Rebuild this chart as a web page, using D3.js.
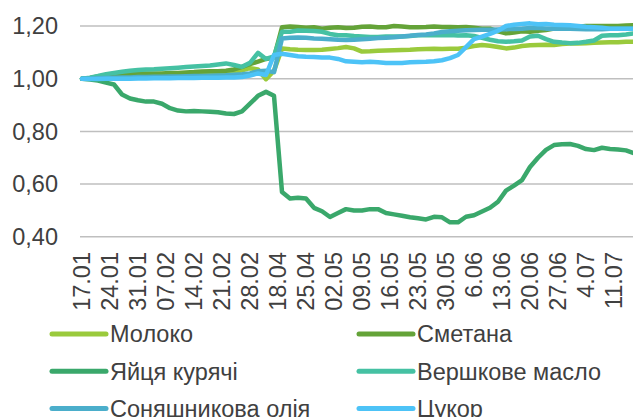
<!DOCTYPE html>
<html lang="uk">
  <head>
    <meta charset="UTF-8" />
    <title>D3</title>
    <script src="https://cdn.jsdelivr.net/npm/d3@7"></script>
    <style>
      html,
      body {
        margin: 0;
        padding: 0;
        background: #fff;
      }
      text {
        font-family: 'Liberation Sans', Arial, sans-serif;
        fill: #404040;
      }
    </style>
  </head>
  <body>
    <script>
      // tick labels: one every 7 categories
      const dates = ['17.01', '24.01', '31.01', '07.02', '14.02', '21.02', '28.02', '18.04', '25.04', '02.05',
        '09.05', '16.05', '23.05', '30.05', '6.06', '13.06', '20.06', '27.06', '4.07', '11.07'];
      const yTicks = [0.4, 0.6, 0.8, 1.0, 1.2];

      // values read every 2nd category
      const moloko = [1.000, 1.002, 1.006, 1.010, 1.012, 1.012, 1.013, 1.014, 1.015, 1.015,
        1.017, 1.015, 1.012, 1.012, 1.014, 1.016, 1.018, 1.020, 1.020, 1.025,
        1.032, 1.040, 1.035, 0.998, 1.030, 1.115, 1.112, 1.110, 1.109, 1.109,
        1.110, 1.113, 1.116, 1.120, 1.115, 1.103, 1.104, 1.106, 1.107, 1.108,
        1.109, 1.110, 1.112, 1.113, 1.114, 1.113, 1.114, 1.114, 1.118, 1.124,
        1.128, 1.125, 1.120, 1.115, 1.118, 1.124, 1.127, 1.128, 1.129, 1.128,
        1.132, 1.134, 1.134, 1.135, 1.136, 1.137, 1.138, 1.138, 1.140, 1.140];
      const smetana = [1.000, 1.003, 1.008, 1.012, 1.015, 1.017, 1.018, 1.020, 1.020, 1.020,
        1.020, 1.022, 1.022, 1.024, 1.025, 1.027, 1.028, 1.028, 1.030, 1.035,
        1.045, 1.055, 1.065, 1.075, 1.080, 1.195, 1.198, 1.196, 1.193, 1.195,
        1.190, 1.193, 1.195, 1.192, 1.193, 1.197, 1.198, 1.195, 1.195, 1.200,
        1.198, 1.195, 1.195, 1.196, 1.198, 1.196, 1.196, 1.195, 1.196, 1.193,
        1.190, 1.190, 1.180, 1.172, 1.175, 1.180, 1.178, 1.182, 1.185, 1.190,
        1.195, 1.198, 1.197, 1.200, 1.200, 1.200, 1.200, 1.200, 1.202, 1.203];
      const eggs = [1.000, 0.997, 0.993, 0.985, 0.978, 0.940, 0.925, 0.918, 0.913, 0.913,
        0.905, 0.888, 0.879, 0.876, 0.877, 0.876, 0.875, 0.873, 0.868, 0.866,
        0.876, 0.905, 0.935, 0.950, 0.935, 0.570, 0.545, 0.548, 0.545, 0.510,
        0.497, 0.475, 0.490, 0.505, 0.500, 0.500, 0.505, 0.505, 0.490, 0.485,
        0.480, 0.474, 0.470, 0.466, 0.476, 0.474, 0.455, 0.455, 0.476, 0.482,
        0.496, 0.510, 0.533, 0.575, 0.594, 0.615, 0.665, 0.700, 0.730, 0.748,
        0.751, 0.752, 0.745, 0.733, 0.729, 0.738, 0.733, 0.731, 0.728, 0.717];
      const butter = [1.000, 1.004, 1.010, 1.017, 1.022, 1.026, 1.030, 1.033, 1.035, 1.036,
        1.038, 1.040, 1.042, 1.044, 1.046, 1.048, 1.050, 1.054, 1.058, 1.052,
        1.045, 1.060, 1.098, 1.075, 1.085, 1.178, 1.178, 1.183, 1.182, 1.181,
        1.178, 1.170, 1.165, 1.165, 1.162, 1.160, 1.158, 1.158, 1.160, 1.160,
        1.160, 1.162, 1.165, 1.165, 1.165, 1.165, 1.166, 1.164, 1.165, 1.162,
        1.155, 1.148, 1.142, 1.140, 1.142, 1.145, 1.160, 1.163, 1.150, 1.140,
        1.137, 1.135, 1.136, 1.140, 1.145, 1.163, 1.165, 1.165, 1.168, 1.172];
      const oil = [1.000, 1.000, 1.002, 1.003, 1.004, 1.005, 1.005, 1.006, 1.006, 1.007,
        1.007, 1.008, 1.008, 1.009, 1.010, 1.010, 1.011, 1.012, 1.013, 1.015,
        1.017, 1.020, 1.028, 1.030, 1.025, 1.153, 1.155, 1.156, 1.155, 1.153,
        1.152, 1.150, 1.148, 1.147, 1.148, 1.150, 1.152, 1.154, 1.155, 1.157,
        1.160, 1.163, 1.166, 1.168, 1.172, 1.177, 1.180, 1.182, 1.184, 1.185,
        1.186, 1.186, 1.187, 1.188, 1.189, 1.190, 1.192, 1.193, 1.190, 1.190,
        1.190, 1.190, 1.189, 1.188, 1.188, 1.188, 1.190, 1.190, 1.190, 1.190];
      const sugar = [1.000, 0.999, 0.999, 1.000, 1.000, 1.000, 1.000, 1.001, 1.001, 1.002,
        1.002, 1.002, 1.003, 1.003, 1.003, 1.004, 1.004, 1.004, 1.005, 1.005,
        1.006, 1.012, 1.020, 1.014, 1.090, 1.095, 1.090, 1.085, 1.083, 1.082,
        1.080, 1.080, 1.075, 1.066, 1.064, 1.062, 1.064, 1.062, 1.060, 1.060,
        1.060, 1.062, 1.063, 1.064, 1.066, 1.070, 1.078, 1.090, 1.120, 1.150,
        1.160, 1.170, 1.182, 1.200, 1.205, 1.208, 1.210, 1.207, 1.208, 1.205,
        1.204, 1.203, 1.200, 1.197, 1.195, 1.193, 1.190, 1.190, 1.190, 1.190];

      const series = [
        { name: 'Молоко', values: moloko, color: '#9ACA3C' },
        { name: 'Сметана', values: smetana, color: '#64A338' },
        { name: 'Яйця курячі', values: eggs, color: '#3AA86B' },
        { name: 'Вершкове масло', values: butter, color: '#45C1A3' },
        { name: 'Соняшникова олія', values: oil, color: '#4BAECB' },
        { name: 'Цукор', values: sugar, color: '#4DC3F7' },
      ];

      const width = 633,
        height = 417;

      const svg = d3
        .select('body')
        .append('svg')
        .attr('width', width)
        .attr('height', height);

      const x = d3.scaleLinear().domain([0, 1]).range([82, 86]);
      const y = d3.scaleLinear().domain([0.4, 1.2]).range([236.8, 26]);

      // grid
      svg
        .append('g')
        .selectAll('line')
        .data(yTicks)
        .join('line')
        .attr('x1', 80)
        .attr('x2', width)
        .attr('y1', d => y(d))
        .attr('y2', d => y(d))
        .style('stroke', '#BFBFBF')
        .style('stroke-width', 1.5);

      svg
        .append('g')
        .selectAll('text')
        .data(yTicks)
        .join('text')
        .attr('x', 58)
        .attr('y', d => y(d))
        .attr('dy', '0.35em')
        .attr('text-anchor', 'end')
        .style('font-size', '23.5px')
        .text(d => d3.format('.2f')(d).replace('.', ','));

      svg
        .append('g')
        .selectAll('text')
        .data(dates)
        .join('text')
        .attr('transform', (d, i) => `translate(${x(i * 7)}, 252) rotate(-90)`)
        .attr('dy', '0.35em')
        .attr('text-anchor', 'end')
        .style('font-size', '23.5px')
        .text(d => d);

      const line = d3
        .line()
        .x((d, i) => x(i * 2))
        .y(d => y(d));

      svg
        .append('g')
        .selectAll('path')
        .data(series)
        .join('path')
        .attr('d', d => line(d.values))
        .style('fill', 'none')
        .style('stroke', d => d.color)
        .style('stroke-width', 4.5)
        .style('stroke-linejoin', 'round')
        .style('stroke-linecap', 'round');

      // legend, two columns
      const legend = svg
        .append('g')
        .selectAll('g')
        .data(series)
        .join('g')
        .attr('transform', (d, i) => `translate(${i % 2 ? 359 : 52}, ${334 + Math.floor(i / 2) * 37.3})`);

      legend
        .append('line')
        .attr('x1', 0)
        .attr('x2', 54)
        .style('stroke', d => d.color)
        .style('stroke-width', 5)
        .style('stroke-linecap', 'round');

      legend
        .append('text')
        .attr('x', 58)
        .attr('dy', '0.35em')
        .style('font-size', '23.5px')
        .text(d => d.name);
    </script>
  </body>
</html>
